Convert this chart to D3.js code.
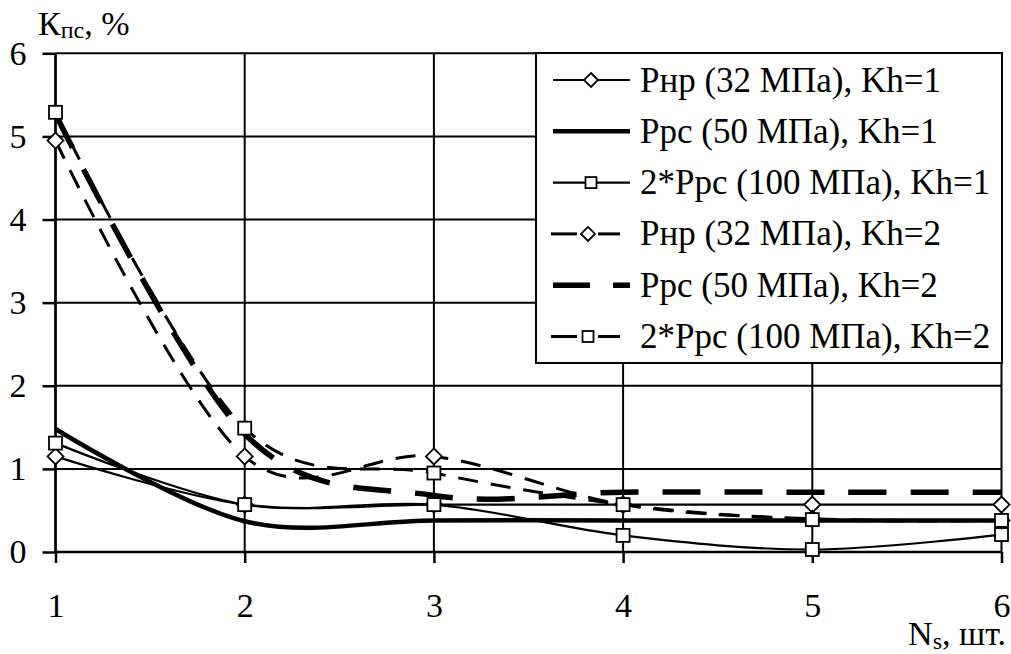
<!DOCTYPE html>
<html>
<head>
<meta charset="utf-8">
<script src="https://cdn.jsdelivr.net/npm/d3@7"></script>
<style>
  html, body { margin: 0; padding: 0; background: #fff; }
  svg text { font-family: "Liberation Serif", "Times New Roman", serif; fill: #000; }
  .grid line { stroke: #000; stroke-width: 2; }
  .axis path { display: none; }
  .axis line { stroke: #000; stroke-width: 2.5; }
</style>
</head>
<body>
<svg id="chart" width="1011" height="654"></svg>
<script>
// x: number of items N_s, y: K_пс, %
const ns = [1, 2, 3, 4, 5, 6];
const yTicks = [0, 1, 2, 3, 4, 5, 6];

const pnrKh1  = [1.15, 0.57, 0.57, 0.57, 0.57, 0.57];
const prsKh1  = [1.48, 0.37, 0.38, 0.38, 0.38, 0.38];
const prs2Kh1 = [1.31, 0.57, 0.57, 0.20, 0.03, 0.21];
const pnrKh2  = [4.95, 1.15, 1.15, 0.57, 0.40, 0.38];
const prsKh2  = [5.27, 1.42, 0.68, 0.72, 0.72, 0.72];
const prs2Kh2 = [5.29, 1.49, 0.95, 0.57, 0.39, 0.38];

const seriesNames = [
  'Рнр (32 МПа), Kh=1',
  'Ррс (50 МПа), Kh=1',
  '2*Ррс (100 МПа), Kh=1',
  'Рнр (32 МПа), Kh=2',
  'Ррс (50 МПа), Kh=2',
  '2*Ррс (100 МПа), Kh=2'
];
const seriesValues = [pnrKh1, prsKh1, prs2Kh1, pnrKh2, prsKh2, prs2Kh2];

// line look per series: width, dash, marker
const looks = [
  { w: 2.2, dash: null,    marker: 'diamond' },
  { w: 4.5, dash: null,    marker: null },
  { w: 2.2, dash: null,    marker: 'square' },
  { w: 3,   dash: '20,13', marker: 'diamond' },
  { w: 5.5, dash: '38,24', marker: null },
  { w: 3,   dash: '20,13', marker: 'square' }
];

const FONT = '"Liberation Serif", "Times New Roman", serif';

const svg = d3.select('#chart');
const x = d3.scaleLinear().domain([1, 6]).range([55.5, 1001.5]);
const y = d3.scaleLinear().domain([0, 6]).range([552, 53.3]);

// grid
const grid = svg.append('g').attr('class', 'grid');
grid.selectAll('line.h').data(yTicks).enter().append('line')
  .attr('x1', x(1)).attr('x2', x(6))
  .attr('y1', d => y(d)).attr('y2', d => y(d));
grid.selectAll('line.v').data(ns).enter().append('line')
  .attr('x1', d => x(d)).attr('x2', d => x(d))
  .attr('y1', y(0)).attr('y2', y(6));

// axes
const yAxis = svg.append('g').attr('class', 'axis')
  .attr('transform', 'translate(' + x(1) + ',0)')
  .call(d3.axisLeft(y).tickValues(yTicks).tickSize(13).tickPadding(16).tickFormat(d3.format('d')));
const xAxis = svg.append('g').attr('class', 'axis')
  .attr('transform', 'translate(0,' + y(0) + ')')
  .call(d3.axisBottom(x).tickValues(ns).tickSize(11).tickPadding(30).tickFormat(d3.format('d')));
[yAxis, xAxis].forEach(a => a.attr('font-family', null).attr('font-size', null)
  .selectAll('text').style('font-family', FONT).style('font-size', '34px'));
svg.append('line').attr('x1', x(1)).attr('x2', x(6)).attr('y1', y(0)).attr('y2', y(0))
  .attr('stroke', '#000').attr('stroke-width', 2.5);
svg.append('line').attr('x1', x(1)).attr('x2', x(1)).attr('y1', y(0)).attr('y2', y(6))
  .attr('stroke', '#000').attr('stroke-width', 2.5);

// series
const line = d3.line()
  .x((d, i) => x(ns[i]))
  .y(d => y(d))
  .curve(d3.curveCardinal.tension(0));

function marker(g, kind, cx, cy, s) {
  if (kind === 'square') {
    g.append('rect').attr('x', cx - s / 2).attr('y', cy - s / 2)
      .attr('width', s).attr('height', s)
      .attr('fill', '#fff').attr('stroke', '#000').attr('stroke-width', 1.8);
  } else if (kind === 'diamond') {
    const r = s / 2 + 1.5;
    g.append('path')
      .attr('d', 'M' + cx + ',' + (cy - r) + 'L' + (cx + r) + ',' + cy + 'L' + cx + ',' + (cy + r) + 'L' + (cx - r) + ',' + cy + 'Z')
      .attr('fill', '#fff').attr('stroke', '#000').attr('stroke-width', 1.8);
  }
}

const plot = svg.append('g');
seriesValues.forEach((vals, k) => {
  const lk = looks[k];
  const g = plot.append('g');
  g.append('path').datum(vals).attr('d', line)
    .attr('fill', 'none').attr('stroke', '#000')
    .attr('stroke-width', lk.w)
    .attr('stroke-dasharray', lk.dash);
  if (lk.marker) vals.forEach((v, i) => marker(g, lk.marker, x(ns[i]), y(v), 13));
});

// legend
const leg = svg.append('g');
leg.append('rect').attr('x', 536).attr('y', 53).attr('width', 466).attr('height', 310)
  .attr('fill', '#fff').attr('stroke', '#000').attr('stroke-width', 2);
seriesNames.forEach((name, k) => {
  const lk = looks[k];
  const ry = 80 + k * 51.3;
  const g = leg.append('g');
  if (k < 3) {
    g.append('line').attr('x1', 553).attr('x2', 630).attr('y1', ry).attr('y2', ry)
      .attr('stroke', '#000').attr('stroke-width', lk.w);
  } else if (k === 4) {
    g.append('line').attr('x1', 553).attr('x2', 630).attr('y1', ry).attr('y2', ry)
      .attr('stroke', '#000').attr('stroke-width', lk.w).attr('stroke-dasharray', '37,23');
  } else {
    g.append('line').attr('x1', 551).attr('x2', 577).attr('y1', ry).attr('y2', ry)
      .attr('stroke', '#000').attr('stroke-width', lk.w);
    g.append('line').attr('x1', 598).attr('x2', 620).attr('y1', ry).attr('y2', ry)
      .attr('stroke', '#000').attr('stroke-width', lk.w);
  }
  if (lk.marker) marker(g, lk.marker, k < 3 ? 591 : 588, ry, 11);
  g.append('text').attr('x', 640).attr('y', ry + 11.5)
    .style('font-family', FONT).style('font-size', '35px').text(name);
});

// axis titles
const yt = svg.append('text').attr('x', 38).attr('y', 35)
  .style('font-family', FONT).style('font-size', '34px');
yt.append('tspan').text('К');
yt.append('tspan').style('font-size', '24px').attr('dy', 3).text('пс');
yt.append('tspan').attr('dy', -3).text(', %');

const xt = svg.append('text').attr('x', 1006).attr('y', 645)
  .style('font-family', FONT).style('font-size', '34px').attr('text-anchor', 'end');
xt.append('tspan').text('N');
xt.append('tspan').style('font-size', '24px').attr('dy', 4).text('s');
xt.append('tspan').attr('dy', -4).text(', шт.');
</script>
</body>
</html>
